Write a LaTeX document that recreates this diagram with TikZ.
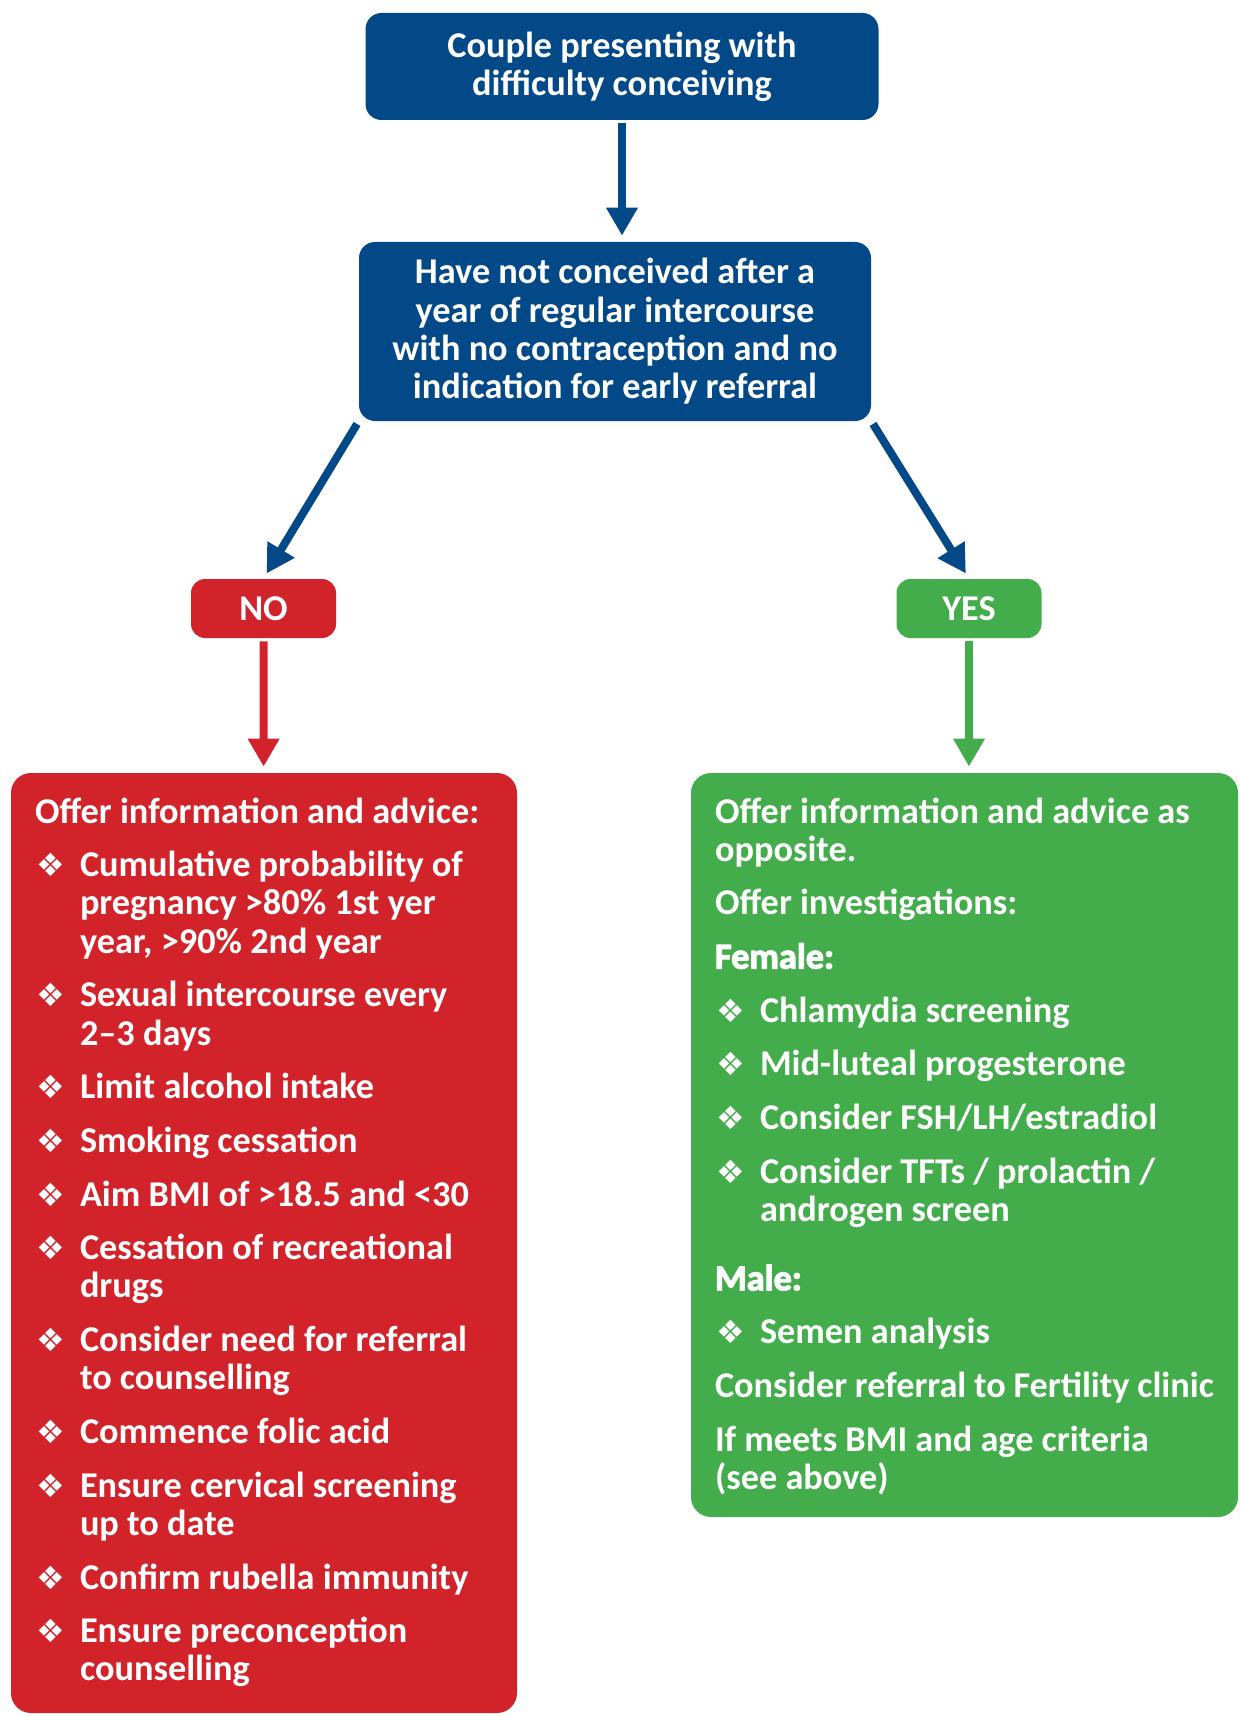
\documentclass[tikz,border=0pt]{standalone}
\usepackage{fontspec}
\setmainfont{Carlito}
\newfontfamily\symfont{DejaVu Sans}
\newfontfamily\heavyfont{Carlito}[BoldFeatures={FakeBold=3}]
\usetikzlibrary{positioning,arrows.meta}
\definecolor{navy}{RGB}{3,73,135}
\definecolor{nored}{RGB}{210,35,43}
\definecolor{yesgreen}{RGB}{66,173,74}
\newcommand{\dia}{\makebox[22.5pt][l]{\hspace{0.5pt}{\symfont\fontsize{16pt}{16pt}\selectfont ❖}}}
\newcommand{\itm}[1]{\par\noindent\hangindent=22.5pt\hangafter=1\dia#1}
\newcommand{\firstline}{\rule{0pt}{25pt}}
\tikzset{
>={Triangle[width=15pt,length=14pt]},
  txt/.style={
    text=white,
    font=\bfseries\fontsize{18.15pt}{19.15pt}\selectfont},
  flowbox/.style={
    rectangle,
    rounded corners=8pt,
    fill=navy,
    txt,
    align=center,
    inner sep=0pt},
  answer/.style={
    flowbox,
    rounded corners=7pt,
    minimum width=72.5pt,
    minimum height=29.5pt},
  listbox/.style={
    rectangle,
    rounded corners=10pt,
    txt,
    inner sep=0pt},
  link/.style={->, draw=navy, line width=4pt, shorten <=1.5pt, shorten >=3pt},
}

\begin{document}
\begin{tikzpicture}[x=0.5pt, y=-0.5pt]
    \useasboundingbox (0,0) rectangle (1240,1717);
    \node[flowbox, minimum width=256.5pt, minimum height=53.5pt] (start) at (622,66.5)
        {Couple presenting with\\difficulty conceiving};
    \node[flowbox, minimum width=256pt, minimum height=89.5pt] (query) at (615,331.5)
        {Have not conceived after a\\year of regular intercourse\\with no contraception and no\\indication for early referral};
    \node[answer, fill=nored] (no) at (263.5,608.5) {NO};
    \node[answer, fill=yesgreen] (yes) at (969,608.5) {YES};
    \node[listbox, fill=nored, minimum width=253pt, minimum height=470pt] (advice) at (264,1243)
        {\begin{minipage}[c][470pt][t]{229pt}
         \raggedright\setlength{\parskip}{7.66pt}
         \firstline Offer information and advice:
         \itm{Cumulative probability of\newline pregnancy >80\% 1st yer\newline year, >90\% 2nd year}
         \itm{Sexual intercourse every\newline 2–3 days}
         \itm{Limit alcohol intake}
         \itm{Smoking cessation}
         \itm{Aim BMI of >18.5 and <30}
         \itm{Cessation of recreational\newline drugs}
         \itm{Consider need for referral\newline to counselling}
         \itm{Commence folic acid}
         \itm{Ensure cervical screening\newline up to date}
         \itm{Confirm rubella immunity}
         \itm{Ensure preconception\newline counselling}
         \end{minipage}};
    \node[listbox, fill=yesgreen, minimum width=273.5pt, minimum height=372pt] (info) at (964.5,1145)
        {\begin{minipage}[c][372pt][t]{249.5pt}
         \raggedright\setlength{\parskip}{7.66pt}
         \firstline Offer information and advice as\newline opposite.\par
         Offer investigations:\par
         {\heavyfont\bfseries Female:}
         \itm{Chlamydia screening}
         \itm{Mid-luteal progesterone}
         \itm{Consider FSH/LH/estradiol}
         \itm{Consider TFTs / prolactin /\newline androgen screen}\par
         \vspace{7.66pt}{\heavyfont\bfseries Male:}
         \itm{Semen analysis}\par
         Consider referral to Fertility clinic\par
         If meets BMI and age criteria\newline (see above)
         \end{minipage}};
    \draw[link] (start.south) -- (start.south |- query.north);
    \draw[link] (query.south west) -- (no.north);
    \draw[link] (query.south east) -- (yes.north);
    \draw[link, draw=nored] (no) -- (advice);
    \draw[link, draw=yesgreen] (yes.south) -- (yes.south |- info.north);
\end{tikzpicture}
\end{document}
